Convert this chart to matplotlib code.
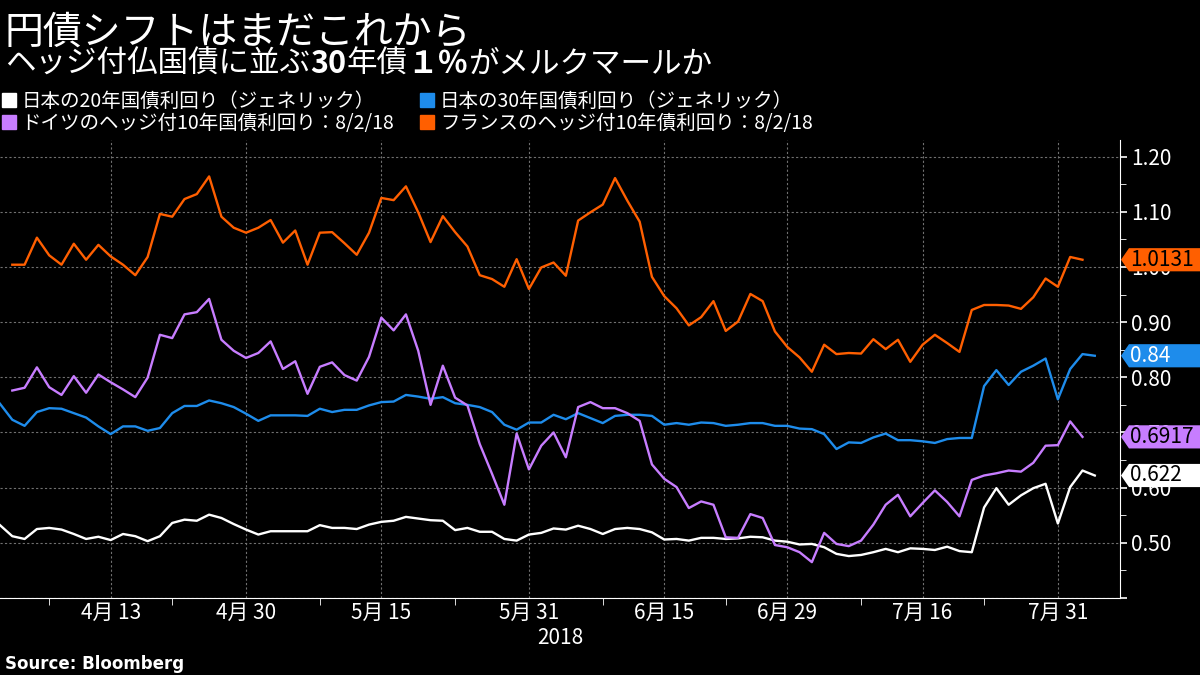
import numpy as np
import pandas as pd
import matplotlib
matplotlib.use("Agg")
import matplotlib.pyplot as plt
import matplotlib.transforms as mtransforms
from matplotlib.lines import Line2D
from matplotlib.patches import Polygon

plt.rcParams['font.family'] = ['Noto Sans CJK JP', 'DejaVu Sans']

# business days Apr 2 - Aug 3 2018
dates = pd.bdate_range("2018-04-02", "2018-08-03")

jp20 = [0.532, 0.512, 0.507, 0.525, 0.527, 0.524, 0.516, 0.507, 0.511, 0.505,
        0.516, 0.512, 0.503, 0.512, 0.536, 0.542, 0.540, 0.551, 0.545, 0.534,
        0.524, 0.515, 0.521, 0.521, 0.521, 0.521, 0.532, 0.527, 0.527, 0.525,
        0.533, 0.538, 0.540, 0.547, 0.544, 0.541, 0.540, 0.523, 0.527, 0.520,
        0.520, 0.507, 0.504, 0.515, 0.518, 0.526, 0.524, 0.531, 0.525, 0.516,
        0.525, 0.527, 0.525, 0.519, 0.506, 0.507, 0.504, 0.509, 0.509, 0.507,
        0.508, 0.511, 0.510, 0.504, 0.502, 0.497, 0.498, 0.492, 0.480, 0.476,
        0.478, 0.483, 0.489, 0.483, 0.490, 0.489, 0.487, 0.493, 0.485, 0.483,
        0.564, 0.599, 0.569, 0.586, 0.599, 0.607, 0.535, 0.601, 0.631, 0.622]

jp30 = [0.752, 0.723, 0.712, 0.737, 0.744, 0.743, 0.735, 0.727, 0.711, 0.697,
        0.711, 0.711, 0.703, 0.708, 0.735, 0.748, 0.748, 0.758, 0.753, 0.746,
        0.734, 0.721, 0.731, 0.731, 0.731, 0.730, 0.743, 0.737, 0.741, 0.741,
        0.749, 0.755, 0.756, 0.768, 0.765, 0.761, 0.764, 0.753, 0.750, 0.746,
        0.737, 0.714, 0.705, 0.718, 0.718, 0.732, 0.724, 0.735, 0.726, 0.717,
        0.730, 0.732, 0.732, 0.730, 0.714, 0.717, 0.714, 0.718, 0.717, 0.712,
        0.714, 0.717, 0.717, 0.712, 0.712, 0.707, 0.706, 0.697, 0.670, 0.682,
        0.681, 0.691, 0.698, 0.686, 0.686, 0.684, 0.681, 0.688, 0.690, 0.690,
        0.784, 0.813, 0.786, 0.810, 0.821, 0.834, 0.760, 0.815, 0.842, 0.839]

# hedged 10y, Apr 3 - Aug 2
de10 = [np.nan,
        0.776, 0.781, 0.818, 0.782, 0.768, 0.802, 0.772, 0.805, 0.791,
        0.778, 0.764, 0.799, 0.877, 0.871, 0.914, 0.918, 0.942, 0.868, 0.848,
        0.835, 0.844, 0.865, 0.815, 0.829, 0.770, 0.819, 0.827, 0.804, 0.794,
        0.837, 0.908, 0.885, 0.914, 0.848, 0.750, 0.821, 0.763, 0.749, 0.679,
        0.625, 0.569, 0.698, 0.633, 0.676, 0.700, 0.655, 0.746, 0.755, 0.744,
        0.744, 0.735, 0.721, 0.642, 0.616, 0.601, 0.563, 0.575, 0.569, 0.510,
        0.509, 0.552, 0.545, 0.496, 0.492, 0.483, 0.465, 0.518, 0.498, 0.494,
        0.504, 0.533, 0.569, 0.587, 0.548, 0.572, 0.595, 0.574, 0.548, 0.614,
        0.622, 0.626, 0.631, 0.629, 0.645, 0.676, 0.677, 0.720, 0.692,
        np.nan]

fr10 = [np.nan,
        1.004, 1.004, 1.053, 1.021, 1.004, 1.042, 1.013, 1.040, 1.019,
        1.004, 0.985, 1.018, 1.096, 1.091, 1.123, 1.132, 1.164, 1.091, 1.071,
        1.062, 1.071, 1.085, 1.044, 1.066, 1.004, 1.062, 1.063, 1.043, 1.022,
        1.062, 1.125, 1.121, 1.146, 1.099, 1.045, 1.092, 1.063, 1.037, 0.985,
        0.978, 0.964, 1.014, 0.960, 0.999, 1.008, 0.984, 1.084, 1.099, 1.113,
        1.161, 1.120, 1.082, 0.982, 0.947, 0.925, 0.894, 0.909, 0.938, 0.884,
        0.901, 0.951, 0.938, 0.883, 0.855, 0.836, 0.810, 0.859, 0.842, 0.844,
        0.843, 0.869, 0.851, 0.868, 0.828, 0.859, 0.877, 0.862, 0.846, 0.922,
        0.931, 0.931, 0.930, 0.924, 0.945, 0.979, 0.964, 1.018, 1.013,
        np.nan]

names = ["日本の20年国債利回り（ジェネリック）", "日本の30年国債利回り（ジェネリック）",
         "ドイツのヘッジ付10年国債利回り：8/2/18", "フランスのヘッジ付10年債利回り：8/2/18"]
colors = ["#ffffff", "#1e8ceb", "#c77dff", "#ff5f00"]
tag_text_colors = ["black", "white", "black", "black"]
last_labels = ["0.622", "0.84", "0.6917", "1.0131"]

major_days = ["2018-04-13", "2018-04-30", "2018-05-15", "2018-05-31",
              "2018-06-15", "2018-06-29", "2018-07-16", "2018-07-31"]
minor_days = ["2018-04-06", "2018-04-20", "2018-05-08", "2018-05-23",
              "2018-06-08", "2018-06-22", "2018-07-09", "2018-07-23"]

series = [jp20, jp30, de10, fr10]
x = np.arange(len(dates))

fig = plt.figure(figsize=(12, 6.75), dpi=100, facecolor="black")
ax = fig.add_axes([0, 77 / 675, 1120 / 1200, 458 / 675], facecolor="black")

for s, c in zip(series, colors):
    ax.plot(x, s, color=c, lw=1.7)

ax.set_xlim(0, 91.05)
ax.set_ylim(0.40, 1.23)

ax.spines["left"].set_visible(False)
ax.spines["top"].set_visible(False)
ax.spines["right"].set_color("white")
ax.spines["bottom"].set_color("white")

maj = [dates.get_loc(pd.Timestamp(d)) for d in major_days]
mnr = [dates.get_loc(pd.Timestamp(d)) for d in minor_days]
ax.set_xticks(maj)
ax.set_xticklabels([f"{pd.Timestamp(d).month}月 {pd.Timestamp(d).day}" for d in major_days])
ax.set_xticks(mnr, minor=True)
ax.tick_params(axis="x", which="major", length=0, pad=3, labelsize=15, colors="white")
ax.tick_params(axis="x", which="minor", length=5, color="white", direction="out")

ax.yaxis.tick_right()
yt = np.arange(0.4, 1.201, 0.1)
ax.set_yticks(yt)
ax.set_yticklabels(["" if v < 0.45 else f"{v:.2f}" for v in yt])
ax.set_yticks(np.arange(0.45, 1.23, 0.1), minor=True)
ax.tick_params(axis="y", which="major", length=5, width=1.2, pad=3, labelsize=15, colors="white")
ax.tick_params(axis="y", which="minor", length=4, color="white")

ax.grid(True, which="major", color="#707070", linestyle=(0, (2, 2)), lw=0.8)

ax.text(0.5, -0.088, "2018", transform=ax.transAxes, ha="center", va="center",
        color="white", fontsize=15)

# last value tags
trans = mtransforms.blended_transform_factory(fig.transFigure, ax.transData)
h = 0.021
for s, c, tc, lab in zip(series, colors, tag_text_colors, last_labels):
    v = [k for k in s if not np.isnan(k)][-1]
    poly = Polygon([(1121 / 1200, v), (1129 / 1200, v + h), (1.0, v + h),
                    (1.0, v - h), (1129 / 1200, v - h)],
                   closed=True, transform=trans, facecolor=c, edgecolor="none",
                   clip_on=False, zorder=5)
    fig.add_artist(poly)
    fig.text(1130 / 1200, v, lab, transform=trans, ha="left", va="center",
             color=tc, fontsize=15, zorder=6)

# legend
handles = [Line2D([], [], marker="s", linestyle="none", markersize=10, color=c) for c in colors]
order = [0, 2, 1, 3]
fig.legend([handles[i] for i in order], [names[i] for i in order],
           loc="upper left", bbox_to_anchor=(2 / 1200, 1 - 91 / 675), ncol=2,
           frameon=False, fontsize=14, labelcolor="white", handlelength=0.7,
           handletextpad=0.3, columnspacing=1.35, borderaxespad=0, borderpad=0,
           labelspacing=0.05)

# titles
fig.text(5 / 1200, 1 - 44 / 675, "円債シフトはまだこれから", color="white",
         fontsize=28, va="baseline")
r = fig.canvas.get_renderer()
pieces = [("ヘッジ付仏国債に並ぶ", "normal"), ("30", "bold"), ("年債", "normal"),
          ("１％", "bold"), ("がメルクマールか", "normal")]
xp = 5 / 1200
for txt, w in pieces:
    t = fig.text(xp, 1 - 73 / 675, txt, color="white", fontsize=22, fontweight=w,
                 va="baseline")
    xp = t.get_window_extent(renderer=r).x1 / fig.bbox.width

fig.text(5 / 1200, 1 - 669 / 675, "Source: Bloomberg", color="white", fontsize=12,
         fontweight="bold", family="DejaVu Sans", va="baseline")

fig.savefig("out.png", dpi=100, facecolor="black")
